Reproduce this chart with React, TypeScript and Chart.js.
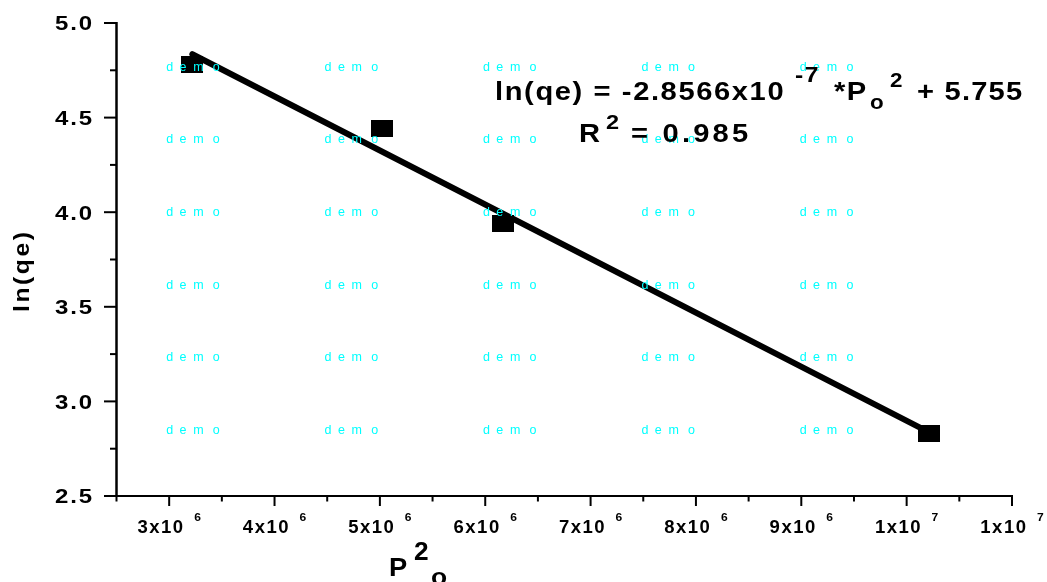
import React, { useEffect, useRef } from 'react';
import { Chart, registerables } from 'chart.js';
Chart.register(...registerables);

// ---- data ----
const dataX = [3.22e6, 5.02e6, 6.17e6, 10.21e6];
const dataY = [4.78, 4.443, 3.94, 2.83];
const fitX = [3.22e6, 10.21e6];
const fitY = [4.835, 2.838];

const xMin = 2.5e6;
const xMax = 1.1e7;
const yMin = 2.5;
const yMax = 5.0;

const xMajorTicks = [3e6, 4e6, 5e6, 6e6, 7e6, 8e6, 9e6, 1e7, 1.1e7];
const xTickMantissa = ['3', '4', '5', '6', '7', '8', '9', '1', '1'];
const xTickExponent = ['6', '6', '6', '6', '6', '6', '6', '7', '7'];
const xMinorTicks = [2.5e6, 3.5e6, 4.5e6, 5.5e6, 6.5e6, 7.5e6, 8.5e6, 9.5e6, 1.05e7];
const yMajorTicks = [2.5, 3.0, 3.5, 4.0, 4.5, 5.0];
const yTickLabels = ['2.5', '3.0', '3.5', '4.0', '4.5', '5.0'];
const yMinorTicks = [2.75, 3.25, 3.75, 4.25, 4.75];

const FONT = '"Liberation Sans", Arial, "Helvetica", sans-serif';

function spacedWidth(ctx: CanvasRenderingContext2D, s: string, size: number, ls: number, sx = 1, bold = true) {
  ctx.font = `${bold ? 'bold ' : ''}${size}px ${FONT}`;
  let w = 0;
  for (const ch of s) w += ctx.measureText(ch).width * sx;
  return w + ls * (s.length - 1);
}

function spacedText(
  ctx: CanvasRenderingContext2D,
  s: string,
  x: number,
  y: number,
  size: number,
  ls: number,
  sx = 1,
  align: 'left' | 'center' | 'right' = 'left',
  bold = true
) {
  const w = spacedWidth(ctx, s, size, ls, sx, bold);
  let cx = x;
  if (align === 'center') cx = x - w / 2;
  else if (align === 'right') cx = x - w;
  ctx.font = `${bold ? 'bold ' : ''}${size}px ${FONT}`;
  ctx.textAlign = 'left';
  ctx.textBaseline = 'alphabetic';
  for (const ch of s) {
    ctx.save();
    ctx.translate(cx, y);
    ctx.scale(sx, 1);
    ctx.fillText(ch, 0, 0);
    ctx.restore();
    cx += ctx.measureText(ch).width * sx + ls;
  }
  return w;
}

function makeMarker() {
  const c = document.createElement('canvas');
  c.width = 22;
  c.height = 17;
  const g = c.getContext('2d')!;
  g.fillStyle = '#000';
  g.fillRect(0, 0, 22, 17);
  return c;
}

const axesPlugin = {
  id: 'originAxes',
  beforeDatasetsDraw(chart: any) {
    const ctx: CanvasRenderingContext2D = chart.ctx;
    const xs = chart.scales.x;
    const ys = chart.scales.y;
    const left = xs.getPixelForValue(xMin);
    const right = xs.getPixelForValue(xMax);
    const top = ys.getPixelForValue(yMax);
    const bottom = ys.getPixelForValue(yMin);
    ctx.save();
    ctx.strokeStyle = '#000';
    ctx.fillStyle = '#000';
    ctx.lineCap = 'butt';
    // axis lines
    ctx.lineWidth = 2.5;
    ctx.beginPath();
    ctx.moveTo(left, top - 1);
    ctx.lineTo(left, bottom + 1);
    ctx.stroke();
    ctx.lineWidth = 2;
    ctx.beginPath();
    ctx.moveTo(left - 1, bottom);
    ctx.lineTo(right + 1, bottom);
    ctx.stroke();
    // y ticks
    ctx.lineWidth = 2;
    yMajorTicks.forEach((v) => {
      const py = ys.getPixelForValue(v);
      ctx.beginPath();
      ctx.moveTo(left - 12.5, py);
      ctx.lineTo(left, py);
      ctx.stroke();
    });
    yMinorTicks.forEach((v) => {
      const py = ys.getPixelForValue(v);
      ctx.beginPath();
      ctx.moveTo(left - 6.5, py);
      ctx.lineTo(left, py);
      ctx.stroke();
    });
    // x ticks
    xMajorTicks.forEach((v) => {
      const px = xs.getPixelForValue(v);
      ctx.beginPath();
      ctx.moveTo(px, bottom);
      ctx.lineTo(px, bottom + 10);
      ctx.stroke();
    });
    xMinorTicks.forEach((v) => {
      const px = xs.getPixelForValue(v);
      ctx.beginPath();
      ctx.moveTo(px, bottom);
      ctx.lineTo(px, bottom + 5.5);
      ctx.stroke();
    });
    // y tick labels
    yMajorTicks.forEach((v, i) => {
      const py = ys.getPixelForValue(v);
      spacedText(ctx, yTickLabels[i], left - 24.5, py + 7.3, 20, 1.8, 1.2, 'right');
    });
    // x tick labels
    xMajorTicks.forEach((v, i) => {
      const px = xs.getPixelForValue(v);
      const base = xTickMantissa[i] + 'x10';
      const w1 = spacedWidth(ctx, base, 18.5, 1.5, 1.0);
      const gap = 11;
      const w2 = spacedWidth(ctx, xTickExponent[i], 11, 0, 1.1);
      const start = px - (w1 + gap + w2) / 2;
      spacedText(ctx, base, start, bottom + 37.3, 18.5, 1.5, 1.0);
      spacedText(ctx, xTickExponent[i], start + w1 + gap, bottom + 24.7, 11, 0, 1.1);
    });
    // y axis title
    ctx.save();
    ctx.translate(29, 272);
    ctx.rotate(-Math.PI / 2);
    spacedText(ctx, 'ln(qe)', 0, 0, 22, 2.6, 1.12, 'center');
    ctx.restore();
    // x axis title
    spacedText(ctx, 'P', 389, 576, 26, 0, 1.05);
    spacedText(ctx, '2', 414, 560, 25, 0, 1.05);
    spacedText(ctx, 'o', 431, 585, 24, 0, 1.1);
    ctx.restore();
  },
  afterDraw(chart: any) {
    const ctx: CanvasRenderingContext2D = chart.ctx;
    const area = chart.chartArea;
    ctx.save();
    // watermark
    ctx.fillStyle = '#00FFFF';
    const letters = ['d', 'e', 'm', 'o'];
    const offs = [0, 13.3, 27, 46.6];
    for (let r = 0; r < 6; r++) {
      for (let c = 0; c < 5; c++) {
        const bx = area.left + 49.7 + c * 158.4;
        const by = area.top + 47.6 + r * 72.7;
        ctx.font = `12.5px ${FONT}`;
        ctx.textAlign = 'left';
        ctx.textBaseline = 'alphabetic';
        letters.forEach((l, k) => ctx.fillText(l, bx + offs[k], by));
      }
    }
    // equation
    ctx.fillStyle = '#000';
    spacedText(ctx, 'ln(qe) = -2.8566x10', 495, 100, 26, 1.6, 1.12);
    spacedText(ctx, '-7', 795, 82, 22, 1.5, 1.12);
    spacedText(ctx, '*P', 834, 100, 26, 1.5, 1.12);
    spacedText(ctx, 'o', 870, 109, 20, 0, 1.12);
    spacedText(ctx, '2', 890, 87, 20, 0, 1.12);
    spacedText(ctx, '+ 5.755', 917, 100, 26, 1.2, 1.12);
    spacedText(ctx, 'R', 579, 142, 26, 0, 1.12);
    spacedText(ctx, '2', 606, 129, 21, 0, 1.12);
    spacedText(ctx, '= 0.985', 631, 142, 26, 3.2, 1.12);
    ctx.restore();
  },
};

export default function App() {
  const ref = useRef<HTMLCanvasElement>(null);
  useEffect(() => {
    if (!ref.current) return;
    const marker = makeMarker();
    const chart = new Chart(ref.current, {
      type: 'scatter',
      data: {
        datasets: [
          {
            label: 'fit',
            data: fitX.map((x, i) => ({ x, y: fitY[i] })),
            showLine: true,
            borderColor: '#000',
            borderWidth: 6,
            borderCapStyle: 'round',
            pointRadius: 0,
            fill: false,
            clip: false as any,
            order: 1,
          },
          {
            label: 'data',
            data: dataX.map((x, i) => ({ x, y: dataY[i] })),
            showLine: false,
            pointStyle: marker as any,
            pointRadius: 11,
            backgroundColor: '#000',
            borderColor: '#000',
            clip: false as any,
            order: 2,
          },
        ],
      },
      options: {
        animation: false,
        responsive: false,
        maintainAspectRatio: false,
        layout: { padding: { left: 116.5, right: 35, top: 23, bottom: 86 } },
        plugins: { legend: { display: false }, tooltip: { enabled: false } },
        events: [],
        scales: {
          x: { type: 'linear', min: xMin, max: xMax, display: false },
          y: { type: 'linear', min: yMin, max: yMax, display: false },
        },
      },
      plugins: [axesPlugin],
    });
    return () => chart.destroy();
  }, []);
  return (
    <div style={{ position: 'fixed', left: 0, top: 0, width: 1047, height: 582, background: '#fff' }}>
      <canvas ref={ref} width={1047} height={582} style={{ display: 'block', width: 1047, height: 582 }} />
    </div>
  );
}
